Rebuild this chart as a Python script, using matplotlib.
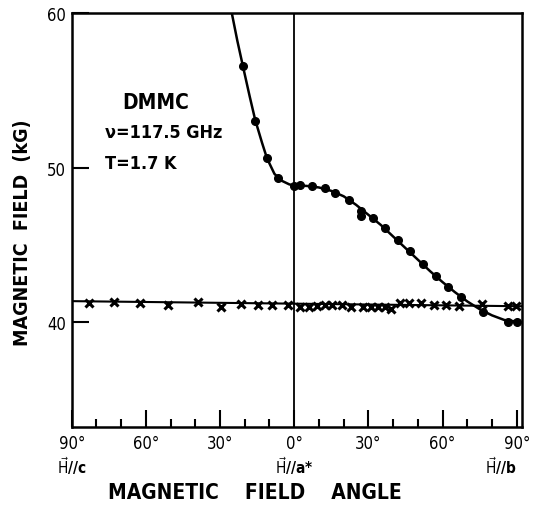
import matplotlib.pyplot as plt

plt.rcParams['font.family'] = ['DejaVu Sans']
plt.rcParams['font.stretch'] = 'condensed'

# filled circles (upper resonance branch)
circ_deg = [-20.8, -15.8, -11.2, -6.4, 0, 2.4, 7.2, 12.6, 16.6, 22.0, 27.2, 27.2,
            31.9, 36.6, 42.0, 46.8, 52.2, 57.2, 62.3, 67.3, 76.5, 86.6, 89.9]
circ_kg = [56.6, 53.0, 50.65, 49.35, 48.83, 48.87, 48.83, 48.70, 48.37, 47.93, 47.17, 46.87,
           46.76, 46.09, 45.35, 44.59, 43.76, 43.0, 42.30, 41.65, 40.65, 40.04, 40.04]

# drawn curve through the circles
curve_deg = [-25.5, -23, -20.8, -18, -15.8, -13, -11, -8, -5, -2, 0, 5, 10, 15, 20, 25,
             30, 35, 40, 45, 50, 55, 60, 65, 70, 75, 80, 85, 90, 92]
curve_kg = [60.2, 58.2, 56.6, 54.6, 53.1, 51.6, 50.6, 49.6, 49.15, 48.92, 48.85, 48.82,
            48.72, 48.5, 48.15, 47.6, 46.95, 46.3, 45.55, 44.8, 44.05, 43.3, 42.6, 41.95,
            41.35, 40.85, 40.45, 40.15, 40.05, 40.02]

# crosses (lower branch)
cross_deg = [-83.1, -73.0, -62.4, -51.2, -39.1, -29.7, -21.5, -14.5, -9.1, -2.7,
             2.4, 5.8, 9.1, 12.5, 15.4, 19.2, 22.9, 27.9, 31.0, 33.9, 36.6, 39.3,
             42.6, 46.6, 51.3, 56.7, 61.4, 66.5, 76.1, 86.6, 89.6]
cross_kg = [41.26, 41.30, 41.26, 41.11, 41.30, 41.0, 41.2, 41.11, 41.11, 41.15,
            41.02, 41.02, 41.04, 41.15, 41.15, 41.15, 40.98, 40.98, 40.98, 40.98, 40.98, 40.89,
            41.26, 41.22, 41.22, 41.15, 41.15, 41.04, 41.2, 41.04, 41.04]
cross_fit_deg = [-90, 92]
cross_fit_kg = [41.37, 41.04]

xticks = [-90, -60, -30, 0, 30, 60, 90]
xticklabels = ['90°', '60°', '30°', '0°', '30°', '60°', '90°']
yticks = [40, 50, 60]

fig = plt.figure(figsize=(5.33, 5.06), dpi=100)
ax = fig.add_axes([0.1345, 0.1547, 0.8443, 0.8176])

ax.plot(curve_deg, curve_kg, color='black', linewidth=1.8)
ax.plot(circ_deg, circ_kg, 'o', color='black', markersize=5.5)
ax.plot(cross_fit_deg, cross_fit_kg, color='black', linewidth=1.5)
ax.plot(cross_deg, cross_kg, 'x', color='black', markersize=6, markeredgewidth=2.2)
ax.axvline(0, color='black', linewidth=1.3)

ax.set_xlim(-90, 92)
ax.set_ylim(33.25, 60.0)

for s in ax.spines.values():
    s.set_linewidth(1.8)

ax.set_xticks(xticks)
ax.set_xticklabels(xticklabels, fontsize=12)
ax.set_xticks(range(-80, 91, 10), minor=True)
ax.tick_params(axis='x', which='major', direction='in', length=12, width=1.5, pad=5)
ax.tick_params(axis='x', which='minor', direction='in', length=6, width=1.5)
ax.set_yticks(yticks)
ax.set_yticklabels([str(v) for v in yticks], fontsize=12)
ax.tick_params(axis='y', direction='in', length=12, width=1.5, pad=4)

# direction labels under the angle ticks
for x, lab in [(-90, r'$\vec{\mathrm{H}}$//c'), (0, r'$\vec{\mathrm{H}}$//a*'), (83.5, r'$\vec{\mathrm{H}}$//b')]:
    ax.annotate(lab, xy=(x, 0), xycoords=('data', 'axes fraction'), xytext=(0, -20),
                textcoords='offset points', ha='center', va='top', fontsize=11, fontweight='bold')

fig.text(0.478, 0.005, 'MAGNETIC    FIELD    ANGLE', ha='center', va='bottom',
         fontsize=15, fontweight='bold')
fig.text(0.043, 0.541, 'MAGNETIC  FIELD  (kG)', rotation=90, ha='center', va='center',
         fontsize=14, fontweight='bold')

ax.text(-69.5, 54.25, 'DMMC', fontsize=15, fontweight='bold', ha='left', va='center')
ax.text(-76.4, 52.3, 'ν=117.5 GHz', fontsize=13, fontweight='bold', ha='left', va='center')
ax.text(-76.4, 50.3, 'T=1.7 K', fontsize=13, fontweight='bold', ha='left', va='center')

plt.savefig('out.png', dpi=100)
